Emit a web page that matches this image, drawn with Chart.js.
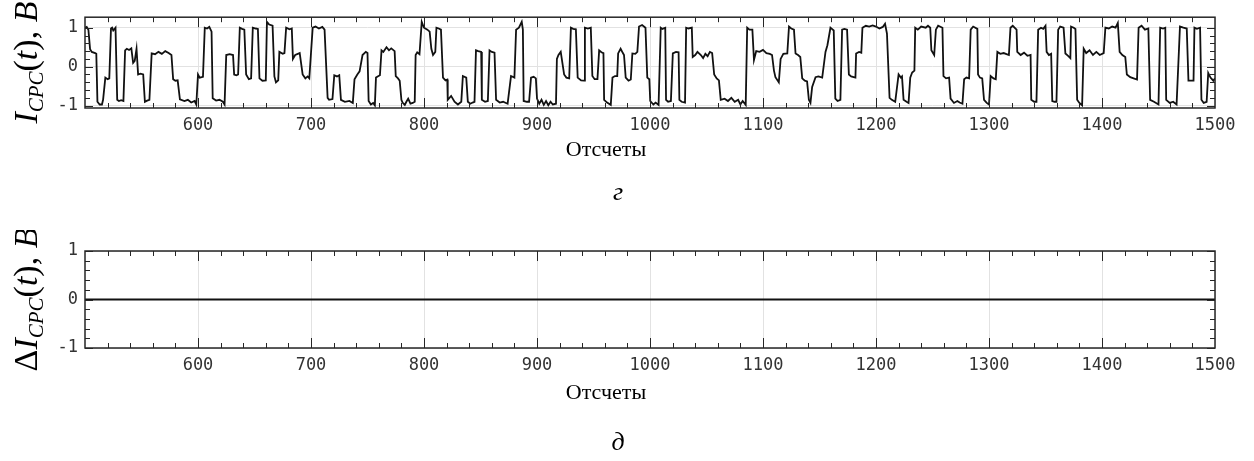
<!DOCTYPE html>
<html lang="ru">
<head>
<meta charset="utf-8">
<title>I_CPC(t)</title>
<script src="https://cdn.jsdelivr.net/npm/chart.js@4.4.1/dist/chart.umd.min.js"></script>
<style>
  html, body { margin: 0; padding: 0; background: #fff; }
  canvas { display: block; }
</style>
</head>
<body>
<canvas id="topChart" width="1254" height="230"></canvas>
<canvas id="bottomChart" width="1254" height="231"></canvas>
<script>
// отсчеты и значения сигнала I_CPC(t)
const sampleIdx = [
  500, 501.5, 503, 504.5, 506, 509, 510, 511, 513, 515, 516, 518, 520, 521.5, 523, 524, 525, 527,
  528.5, 530, 532, 534, 535.5, 537, 539, 541, 542.6, 544, 545.6, 547, 549, 551.5, 553, 555, 557,
  559, 562, 565, 568, 571, 574, 576.5, 578, 580, 582, 584, 588, 591, 594, 597, 598.5, 600, 601.5,
  604.4, 606, 608, 610, 612, 613, 616, 619, 622, 623.5, 625, 628, 631, 632, 634, 635.5, 637, 639,
  641, 642.6, 645, 647, 648.5, 651, 653, 654.4, 657, 660, 661, 663, 666, 667.6, 669, 671, 672, 675,
  676.5, 678, 681, 683, 684, 686, 690, 692.6, 695, 697, 698.5, 701.5, 704, 707, 710, 712, 714.7,
  716, 719, 720.6, 723, 725, 726.5, 730, 734, 737, 738.5, 741, 743, 745.6, 748.5, 750,
  751, 753, 755, 756.5, 757.5, 759, 761, 762.4, 764, 766.8, 769, 771, 774, 775, 777, 778.5, 780,
  781, 783, 784.4, 786, 788, 790, 791.8, 792.6, 794, 796, 798, 800, 803, 805, 806.5, 808, 810, 811,
  813, 815, 816.8, 819, 820.6, 821, 824, 827, 830, 833, 834.4, 837.4, 838.8, 841, 843, 844.7, 846,
  848, 850.6, 851.2, 854, 856.5, 858, 860, 862.4, 863.8, 867, 870, 874, 877, 880, 881.5, 884, 886.5,
  887.5, 888.2, 891, 893, 894.7, 897, 899, 900, 902, 904, 906, 908, 910, 912, 914, 916.8, 917.6,
  919, 921, 924, 926, 928.5, 930, 932, 934.4, 936, 939, 941.8, 942.4, 945, 947.6, 949, 951, 953.5,
  955, 957, 958.8, 959.4, 962, 965.3, 966.8, 969, 971, 971.8, 974, 976, 977, 978.5, 981, 983, 984.4,
  987, 988.8, 990.3, 993, 996, 997.6,
  999.4, 1000.2, 1003, 1005, 1007.6, 1009.5, 1011, 1013.5, 1014.2, 1016, 1018.5, 1020.2, 1023,
  1025.3, 1026, 1028, 1031, 1032, 1034, 1037, 1037.8, 1040, 1042, 1045, 1047, 1049, 1051, 1053,
  1055, 1056.8, 1059, 1061, 1062.6, 1066, 1069, 1072, 1075, 1078, 1080, 1082, 1084.7, 1086, 1088,
  1090.6, 1092, 1094, 1097, 1100, 1103, 1106, 1108, 1109.7, 1111, 1114, 1115.6, 1118, 1121.5, 1123,
  1125, 1127.4, 1128.8, 1131, 1133, 1134.7, 1137, 1139, 1140.6, 1142, 1143.5, 1146.5, 1149, 1152.4,
  1155.3, 1157, 1159.7, 1161, 1162.6, 1164, 1166, 1168.5, 1170, 1172, 1174.4, 1176, 1178, 1181.8,
  1182.4, 1185, 1187, 1188, 1191, 1194, 1197, 1200, 1203, 1206, 1208, 1209.7, 1212, 1214, 1217,
  1220, 1222, 1223, 1224.4, 1227, 1228.8, 1230.3, 1232, 1234, 1234.7, 1237, 1240, 1244, 1246, 1248,
  1249, 1251.5, 1253, 1255, 1258.8, 1259.7, 1262, 1264.7, 1266, 1269, 1272, 1274, 1276.5, 1278,
  1280, 1282.4, 1283.8, 1286, 1289.7, 1290.3, 1292, 1294, 1295.6, 1298, 1300, 1301.5, 1304, 1306,
  1307.4, 1310, 1313, 1317.6, 1319, 1321, 1324.4, 1325, 1328, 1331, 1334, 1336.8, 1337.4, 1340,
  1342, 1343.5, 1346, 1348, 1350, 1351, 1353, 1355, 1356, 1358, 1359.7, 1361.2, 1363, 1366, 1367.6,
  1370, 1372, 1372.6, 1375, 1376.5, 1378, 1380, 1382.4, 1383.8, 1386, 1389, 1392, 1395, 1398,
  1401.5, 1403, 1406, 1409, 1412, 1414, 1415.6, 1418, 1420.6, 1422, 1425, 1428, 1431, 1432.4, 1435,
  1438, 1441, 1442.6, 1446, 1450, 1451.5, 1454, 1456, 1456.8, 1460, 1463, 1466, 1469, 1472, 1475,
  1476.5, 1479, 1481, 1481.8, 1484, 1486.8, 1488, 1490, 1492.6, 1494, 1496, 1498.5, 1500
];
const iCpc = [
  1.0, 1.02, 0.95, 0.45, 0.38, 0.35, 0.33, -0.9, -0.97, -0.97, -0.85, -0.28, -0.32, -0.3, 0.98, 1.0, 0.93, 1.0,
  -0.85, -0.88, -0.86, -0.88, 0.42, 0.46, 0.43, 0.47, 0.1, 0.15, 0.46, -0.2, -0.18, -0.2, -0.9, -0.87, -0.85,
  0.34, 0.32, 0.38, 0.33, 0.4, 0.35, 0.3, -0.32, -0.36, -0.35, -0.84, -0.88, -0.85, -0.92, -0.88, -0.97, -0.2, -0.28,
  -0.26, 1.0, 0.98, 1.02, 0.9, -0.81, -0.87, -0.85, -0.9, -0.97, 0.3, 0.32, 0.3, -0.2, -0.22, -0.2, 1.0, 0.97,
  0.95, -0.2, -0.32, -0.3, 1.0, 0.98, 0.97, -0.3, -0.36, -0.35, 1.15, 1.08, 1.05, -0.25, -0.4, -0.35, 0.38, 0.33,
  0.35, 1.0, 0.96, 0.98, 0.2, 0.3, 0.35, -0.2, -0.3, -0.25, -0.3, 1.0, 1.03, 0.98, 1.02, 0.95, -0.8,
  -0.85, -0.83, -0.22, -0.25, -0.22, -0.85, -0.9, -0.88, -0.93, -0.32, -0.2, -0.12, 0.3, 0.38, 0.35,
  -0.88, -0.97, -0.93, -0.99, -0.28, -0.25, -0.22, 0.42, 0.38, 0.5, 0.42, 0.47, 0.4, -0.24, -0.3, -0.36, -0.85,
  -0.92, -0.98, -0.9, -0.82, -0.95, -0.93, -0.9, 0.3, 0.37, 0.32, 1.15, 1.0, 0.95, 0.9, 0.46, 0.3, 0.38, 1.0,
  0.98, 0.95, -0.28, -0.35, -0.33, -0.85, -0.75, -0.9, -0.97, -0.9, -0.24, -0.28, -0.9, -0.95, -0.92, -0.9, 0.42,
  0.4, 0.38, -0.85, -0.9, -0.88, 0.42, 0.38, 0.36, -0.85, -0.92, -0.9, -0.95, -0.24, -0.28, 0.95, 1.0, 1.15,
  0.95, -0.88, -0.9, -0.9, -0.28, -0.26, -0.3, -0.82, -0.95, -0.85, -0.98, -0.88, -0.99, -0.9, -0.97, -0.95, 0.2,
  0.3, 0.38, -0.2, -0.28, -0.3, 1.0, 0.97, 0.96, -0.28, -0.35, -0.36, 1.0, 0.98, 1.0, -0.24, -0.32, -0.32,
  0.42, 0.37, 0.35, -0.85, -0.92, -0.98, -0.28, -0.24, -0.24, 0.34, 0.46, 0.35, 0.3, -0.28, -0.36, -0.33, 0.34,
  0.33, 0.38, 1.03, 1.07, 1.0, -0.28,
  -0.32, -0.88, -0.97, -0.92, -0.98, 1.0, 0.97, 1.0, -0.85, -0.9, -0.88, 0.34, 0.38,
  0.37, -0.85, -0.9, -0.92, 1.0, 0.98, 1.0, 0.25, 0.3, 0.38, 0.3, 0.22, 0.33, 0.27, 0.38,
  0.35, -0.2, -0.3, -0.35, -0.85, -0.82, -0.88, -0.8, -0.9, -0.85, -0.97, -0.88, -0.98, 1.0, 0.95,
  0.95, 0.17, 0.4, 0.38, 0.43, 0.35, 0.33, 0.3, -0.1, -0.27, -0.4, 0.2, 0.33, 0.34, 1.03,
  0.98, 0.95, 0.34, 0.3, 0.25, -0.3, -0.36, -0.38, -0.85, -0.93, -0.52, -0.27, -0.25, -0.28,
  0.38, 0.55, 1.0, 0.97, 0.93, -0.82, -0.88, -0.85, 0.95, 0.97, 0.95, -0.2, -0.25, -0.28,
  0.34, 0.38, 0.36, 1.0, 1.05, 1.03, 1.06, 1.03, 0.98, 1.02, 1.1, 0.85, -0.8, -0.85, -0.9,
  -0.2, -0.28, -0.25, -0.85, -0.9, -0.93, -0.28, -0.15, -0.1, 1.0, 0.95, 1.03, 1.0, 1.05, 1.0,
  0.42, 0.3, 0.95, 1.05, 1.0, -0.24, -0.3, -0.28, -0.82, -0.93, -0.88, -0.92, -0.95, -0.32,
  -0.28, -0.3, 0.95, 1.03, 0.97, -0.2, -0.28, -0.3, -0.85, -0.93, -0.97, -0.24, -0.3, -0.32,
  0.38, 0.33, 0.35, 0.3, 1.0, 1.05, 0.95, 0.38, 0.3, 0.36, 0.28, 0.3, -0.85, -0.9,
  -0.9, 0.95, 1.0, 0.97, 1.05, 0.38, 0.3, 0.33, -0.88, -0.9, -0.9, 0.95, 1.03, 1.0, 0.34,
  0.28, 0.22, 1.03, 1.0, 0.97, -0.85, -0.93, -0.99, 0.46, 0.35, 0.42, 0.3, 0.38, 0.3,
  0.35, 1.0, 0.98, 1.03, 1.0, 1.12, 0.38, 0.3, 0.25, -0.2, -0.27, -0.3, -0.33, 1.0, 1.05,
  0.95, 0.98, -0.85, -0.9, -0.97, 1.0, 0.98, 1.0, -0.85, -0.93, -0.9, -0.97, 1.03, 1.0, 0.98,
  -0.36, -0.36, -0.36, 1.0, 0.97, 1.0, -0.85, -0.93, -0.9, -0.16, -0.28, -0.36, -0.3
];

// нижняя панель: разность ΔI_CPC(t)
const deltaIdx = [500, 1500];
const deltaICpc = [0, 0];

// подписи осей
const xTickValues = [600, 700, 800, 900, 1000, 1100, 1200, 1300, 1400, 1500];
const yTickValues = [-1, 0, 1];

const FONT_SERIF = '"Liberation Serif", "Times New Roman", serif';

// рамка, внутренние штрихи и подписи в стиле MATLAB
const panelDecor = {
    id: 'panelDecor',
    afterDraw(chart, args, opts) {
        const { ctx, chartArea: a, scales: { x, y } } = chart;
        ctx.save();

        // штрихи внутрь
        ctx.strokeStyle = '#262626';
        ctx.lineWidth = 1;
        ctx.beginPath();
        for (let v = 520; v < 1500; v += 20) {
            const px = Math.round(x.getPixelForValue(v)) + 0.5;
            const len = v % 100 === 0 ? 10 : 5;
            ctx.moveTo(px, a.top); ctx.lineTo(px, a.top + len);
            ctx.moveTo(px, a.bottom); ctx.lineTo(px, a.bottom - len);
        }
        for (let k = -5; k <= 5; k++) {
            const py = Math.round(y.getPixelForValue(k / 5)) + 0.5;
            const len = k % 5 === 0 ? 8 : 5;
            ctx.moveTo(a.left, py); ctx.lineTo(a.left + len, py);
            ctx.moveTo(a.right, py); ctx.lineTo(a.right - len, py);
        }
        ctx.stroke();

        ctx.lineWidth = 1.5;
        ctx.strokeRect(a.left, a.top, a.right - a.left, a.bottom - a.top);

        // подпись оси X и буква панели
        ctx.fillStyle = '#000';
        ctx.textAlign = 'center';
        ctx.textBaseline = 'middle';
        ctx.font = '22px ' + FONT_SERIF;
        ctx.fillText(opts.xTitle, opts.textX, opts.xTitleY);
        ctx.font = 'italic 26px ' + FONT_SERIF;
        ctx.fillText(opts.caption, opts.textX + 12, opts.captionY);

        // вертикальная подпись оси Y с индексом
        const parts = opts.yTitle;
        ctx.textAlign = 'left';
        ctx.textBaseline = 'alphabetic';
        let total = 0;
        parts.forEach(p => { ctx.font = p.font; p.w = ctx.measureText(p.t).width; total += p.w; });
        ctx.translate(opts.yTitleX, (a.top + a.bottom) / 2);
        ctx.rotate(-Math.PI / 2);
        let cx = -total / 2;
        parts.forEach(p => {
            ctx.font = p.font;
            ctx.fillText(p.t, cx, p.dy || 0);
            cx += p.w;
        });
        ctx.restore();
    }
};

function titleParts(withDelta) {
    const big = 'italic 34px ' + FONT_SERIF;
    const up = '34px ' + FONT_SERIF;
    const sub = 'italic 21px ' + FONT_SERIF;
    const parts = [];
    if (withDelta) parts.push({ t: 'Δ', font: up });
    parts.push(
        { t: 'I', font: big },
        { t: 'CPC', font: sub, dy: 6 },
        { t: '(', font: up },
        { t: 't', font: big },
        { t: ')', font: up },
        { t: ', ', font: up },
        { t: 'B', font: big }
    );
    return parts;
}

function makeChart(id, xs, ys, yMin, yMax, geom, deco) {
    const ctx = document.getElementById(id).getContext('2d');
    return new Chart(ctx, {
        type: 'line',
        data: {
            datasets: [{
                data: xs.map((v, i) => ({ x: v, y: ys[i] })),
                borderColor: '#111111',
                borderWidth: geom.lineWidth,
                pointRadius: 0,
                tension: 0,
                fill: false
            }]
        },
        options: {
            responsive: false,
            animation: false,
            layout: { padding: { left: 0, right: 39, top: geom.top, bottom: 0 } },
            plugins: {
                legend: { display: false },
                tooltip: { enabled: false },
                panelDecor: deco
            },
            scales: {
                x: {
                    type: 'linear',
                    min: 500,
                    max: 1500,
                    afterBuildTicks: s => { s.ticks = xTickValues.map(v => ({ value: v })); },
                    afterFit: s => { s.height = geom.xHeight; },
                    grid: { color: '#e2e2e2', lineWidth: 1, drawTicks: false },
                    border: { display: false },
                    ticks: {
                        autoSkip: false,
                        maxRotation: 0,
                        padding: 7,
                        color: '#333333',
                        font: { family: 'DejaVu Sans Mono', size: 17 },
                        callback: v => String(v)
                    }
                },
                y: {
                    min: yMin,
                    max: yMax,
                    afterBuildTicks: s => { s.ticks = yTickValues.map(v => ({ value: v })); },
                    afterFit: s => { s.width = 85; },
                    grid: { color: '#e2e2e2', lineWidth: 1, drawTicks: false },
                    border: { display: false },
                    ticks: {
                        padding: 7,
                        color: '#333333',
                        font: { family: 'DejaVu Sans Mono', size: 17 },
                        callback: v => String(v)
                    }
                }
            }
        },
        plugins: [panelDecor]
    });
}

document.addEventListener('DOMContentLoaded', () => {
    makeChart('topChart', sampleIdx, iCpc, -1.06, 1.27,
        { top: 13, xHeight: 122, lineWidth: 1.8 },
        { xTitle: 'Отсчеты', caption: 'г', textX: 606, xTitleY: 150, captionY: 193, yTitleX: 37, yTitle: titleParts(false) });
    makeChart('bottomChart', deltaIdx, deltaICpc, -1, 1,
        { top: 21, xHeight: 113, lineWidth: 2 },
        { xTitle: 'Отсчеты', caption: 'д', textX: 606, xTitleY: 163, captionY: 213, yTitleX: 37, yTitle: titleParts(true) });
});
</script>
</body>
</html>
